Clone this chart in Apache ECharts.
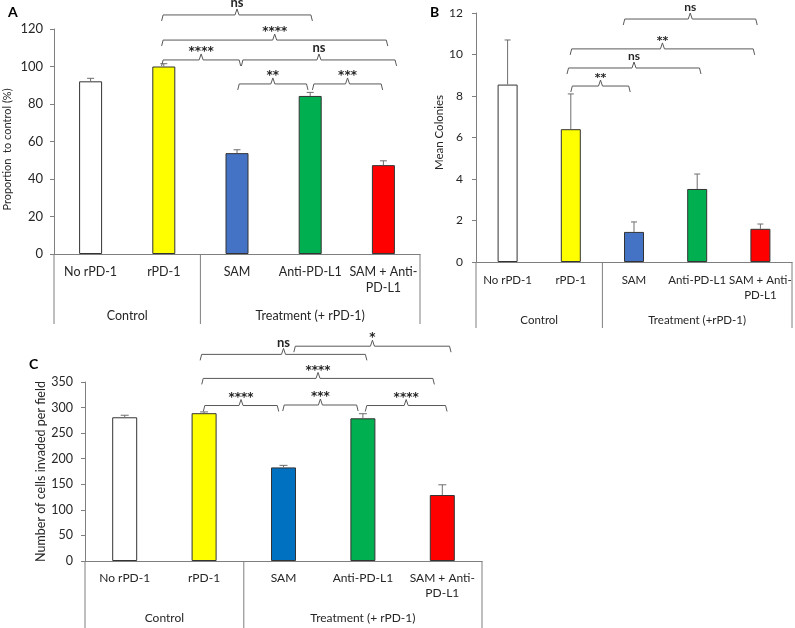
<!DOCTYPE html>
<html>
<head>
<meta charset="utf-8">
<script src="https://cdn.jsdelivr.net/npm/echarts@6/dist/echarts.min.js"></script>
<style>
  html, body { margin: 0; padding: 0; background: #fff; }
  #main { width: 795px; height: 628px; }
</style>
</head>
<body>
<div id="main"></div>
<script>
var categories = ['No rPD-1', 'rPD-1', 'SAM', 'Anti-PD-L1', 'SAM + Anti-\nPD-L1'];
var groupEdges = [-0.5, 1.5, 4.5];
var groupsA = ['Control', 'Treatment (+ rPD-1)'];
var groupsB = ['Control', 'Treatment (+rPD-1)'];
var groupsC = ['Control', 'Treatment (+ rPD-1)'];
var colorsAB = ['#ffffff', '#ffff00', '#4472c4', '#00b050', '#ff0000'];
var colorsC = ['#ffffff', '#ffff00', '#0070c0', '#00b050', '#ff0000'];

var valuesA = [92.1, 100, 53.8, 84.3, 47.4];
var errorsA = [1.6, 1.5, 1.8, 1.9, 2.3];
var valuesB = [8.55, 6.4, 1.45, 3.52, 1.6];
var errorsB = [2.15, 1.7, 0.48, 0.72, 0.23];
var valuesC = [281, 289, 183, 279, 129];
var errorsC = [4, 2.5, 4, 9, 20];

// [from category, to category, level, label]
var bracketsA = [
  [0.97, 3.03, 127.5, 'ns'],
  [0.97, 4.06, 114.1, '****'],
  [0.97, 2.05, 103.5, '****'],
  [2.06, 4.18, 103.5, 'ns'],
  [2.01, 2.97, 90.7, '**'],
  [3.03, 3.99, 90.7, '***']
];
var bracketsB = [
  [1.83, 3.95, 11.71, 'ns'],
  [0.99, 3.91, 10.27, '**'],
  [0.94, 3.06, 9.35, 'ns'],
  [1.0, 1.94, 8.48, '**']
];
var bracketsC = [
  [0.95, 3.05, 404, 'ns'],
  [2.13, 4.11, 420, '*'],
  [0.97, 3.9, 357, '****'],
  [0.99, 1.94, 304, '****'],
  [1.99, 2.94, 305, '***'],
  [3.03, 4.06, 304, '****']
];

var FONT = 'Lato, "Open Sans", sans-serif';
var STAR_FONT = '"DejaVu Sans", sans-serif';
var LINE = '#7f7f7f';
var TEXT = '#262626';

var chart = echarts.init(document.getElementById('main'));

function catAxis(grid, size, margin, lh) {
  return {
    type: 'category', gridIndex: grid, data: categories,
    axisLine: { lineStyle: { color: LINE } },
    axisTick: { show: false },
    axisLabel: { interval: 0, color: TEXT, fontSize: size, fontFamily: FONT, margin: margin, lineHeight: lh }
  };
}
function hiddenAxis(grid) {
  return { type: 'value', gridIndex: grid, min: -0.5, max: 4.5, show: false };
}
function valAxis(grid, max, step, size, margin, name, nameSize, gap, pad) {
  return {
    type: 'value', gridIndex: grid, min: 0, max: max, interval: step,
    name: name, nameLocation: 'middle', nameGap: gap,
    nameTextStyle: { color: TEXT, fontSize: nameSize, fontFamily: FONT, padding: pad },
    axisLine: { show: true, onZero: false, lineStyle: { color: LINE } },
    axisTick: { show: true, length: 4, lineStyle: { color: LINE } },
    splitLine: { show: false },
    axisLabel: { color: TEXT, fontSize: size, fontFamily: FONT, margin: margin }
  };
}
function bars(grid, values, colors, width) {
  return {
    type: 'bar', xAxisIndex: grid * 2, yAxisIndex: grid, barWidth: width, silent: true,
    data: values.map(function (v, i) {
      return { value: v, itemStyle: { color: colors[i], borderColor: '#333', borderWidth: 1 } };
    })
  };
}
function errorBars(grid, values, errors, cap) {
  return {
    type: 'custom', xAxisIndex: grid * 2 + 1, yAxisIndex: grid, silent: true, z: 4,
    data: values.map(function (v, i) { return [i, v + errors[i]]; }),
    renderItem: function (params, api) {
      var i = params.dataIndex;
      var top = api.coord([i, values[i] + errors[i]]);
      var base = api.coord([i, values[i]]);
      var st = { stroke: '#6e6e6e', lineWidth: 1 };
      return { type: 'group', children: [
        { type: 'line', shape: { x1: top[0], y1: base[1], x2: top[0], y2: top[1] }, style: st },
        { type: 'line', shape: { x1: top[0] - cap, y1: top[1], x2: top[0] + cap, y2: top[1] }, style: st }
      ] };
    }
  };
}
function brackets(grid, list, size) {
  return {
    type: 'custom', xAxisIndex: grid * 2 + 1, yAxisIndex: grid, silent: true, z: 5,
    data: list.map(function (b) { return [b[0], b[2]]; }),
    renderItem: function (params, api) {
      var b = list[params.dataIndex];
      var p1 = api.coord([b[0], b[2]]);
      var p2 = api.coord([b[1], b[2]]);
      var y = p1[1], xm = (p1[0] + p2[0]) / 2;
      var star = b[3].charAt(0) === '*';
      return { type: 'group', children: [
        { type: 'polyline', shape: { points: [[p1[0], y + 6], [p1[0] + 1.5, y], [xm - 2, y], [xm, y - 6], [xm + 2, y], [p2[0] - 1.5, y], [p2[0], y + 6]] },
          style: { stroke: '#595959', fill: 'none', lineWidth: 1 } },
        { type: 'text', x: xm, y: star ? y - 8 : y - 12,
          style: { text: b[3], align: 'center', verticalAlign: 'middle', fill: TEXT,
            fontSize: star ? size - 1 : size, fontWeight: 'bold', fontFamily: star ? STAR_FONT : FONT } }
      ] };
    }
  };
}
function frame(grid, groups, drop, labelGap, size) {
  return {
    type: 'custom', xAxisIndex: grid * 2 + 1, yAxisIndex: grid, silent: true,
    data: groupEdges.map(function (e) { return [e, 0]; }),
    renderItem: function (params, api) {
      var k = params.dataIndex;
      var p = api.coord([groupEdges[k], 0]);
      var kids = [{ type: 'line', shape: { x1: p[0], y1: p[1], x2: p[0], y2: p[1] + drop }, style: { stroke: LINE, lineWidth: 1 } }];
      if (k < groups.length) {
        var c = api.coord([(groupEdges[k] + groupEdges[k + 1]) / 2, 0]);
        kids.push({ type: 'text', x: c[0], y: c[1] + labelGap,
          style: { text: groups[k], align: 'center', verticalAlign: 'middle', fill: TEXT, fontSize: size, fontFamily: FONT } });
      }
      return { type: 'group', children: kids };
    }
  };
}

var option = {
  animation: false,
  textStyle: { fontFamily: FONT },
  graphic: [
    { type: 'text', left: 8, top: 5, style: { text: 'A', fontSize: 14, fontWeight: 'bold', fill: '#000', fontFamily: FONT } },
    { type: 'text', left: 430, top: 5, style: { text: 'B', fontSize: 14, fontWeight: 'bold', fill: '#000', fontFamily: FONT } },
    { type: 'text', left: 29, top: 357, style: { text: 'C', fontSize: 14, fontWeight: 'bold', fill: '#000', fontFamily: FONT } }
  ],
  grid: [
    { left: 54, top: 29, width: 366, height: 225 },
    { left: 476, top: 13, width: 316, height: 249 },
    { left: 85, top: 382, width: 397, height: 179 }
  ],
  xAxis: [
    catAxis(0, 12.5, 10, 16), hiddenAxis(0),
    catAxis(1, 11.5, 11, 15), hiddenAxis(1),
    catAxis(2, 12, 10, 15), hiddenAxis(2)
  ],
  yAxis: [
    valAxis(0, 120, 20, 13, 11, 'Proportion  to control (%)', 11, 41, [0, 16, 0, 0]),
    valAxis(1, 12, 2, 12, 13, 'Mean Colonies', 11.5, 31, [0, 0, 0, 10]),
    valAxis(2, 350, 50, 12.5, 12, 'Number of cells invaded per field', 12.5, 37, 0)
  ],
  series: [
    bars(0, valuesA, colorsAB, 23),
    bars(1, valuesB, colorsAB, 20),
    bars(2, valuesC, colorsC, 25),
    errorBars(0, valuesA, errorsA, 3.5),
    errorBars(1, valuesB, errorsB, 3),
    errorBars(2, valuesC, errorsC, 4),
    brackets(0, bracketsA, 13),
    brackets(1, bracketsB, 12),
    brackets(2, bracketsC, 13),
    frame(0, groupsA, 70, 62, 12.5),
    frame(1, groupsB, 66, 58, 11.5),
    frame(2, groupsC, 67, 57, 12)
  ]
};
chart.setOption(option);
</script>
</body>
</html>
